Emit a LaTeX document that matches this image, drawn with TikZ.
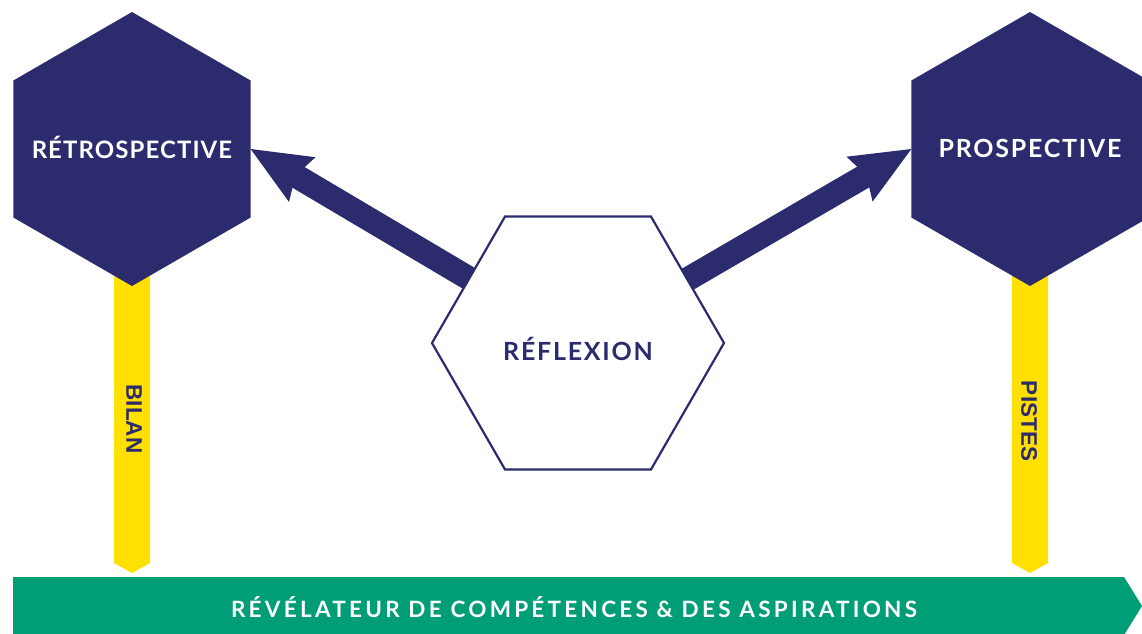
\documentclass[tikz,border=0pt]{standalone}
\usepackage{fontspec}
\setmainfont{Lato}
\newfontfamily\barfont{Liberation Sans}
\usetikzlibrary{shapes.geometric,arrows.meta,backgrounds}
\definecolor{hexblue}{RGB}{43,43,110}
\definecolor{baryellow}{RGB}{255,224,0}
\definecolor{bargreen}{RGB}{0,158,118}

\begin{document}
\begin{tikzpicture}[x=1pt,y=-1pt,
        darkhex/.style={regular polygon, regular polygon sides=6, shape border rotate=30, minimum size=274pt, inner sep=0pt, outer sep=0pt, fill=hexblue, text=white, text depth=0pt},
        lighthex/.style={regular polygon, regular polygon sides=6, minimum size=292pt, inner sep=0pt, outer sep=0pt, draw=hexblue, line width=2.2pt, fill=white, text=hexblue, text depth=0pt},
        bartext/.style={rotate=-90, text=hexblue, font=\barfont\bfseries\fontsize{22.5}{22.5}\selectfont},
        bigarrow/.style={hexblue, line width=24pt, -{Stealth[length=60pt 0 0, width=52pt 0 0, inset=8pt 0 0, line width=0pt 0 0]}}]
        \useasboundingbox (0,0) rectangle (1142,633);
        \clip (0,0) rectangle (1142,633);

        \node[darkhex, text height=18pt, font=\bfseries\fontsize{24}{24}\selectfont\addfontfeatures{LetterSpace=4.5}] (retro) at (132,149) {\makebox[0pt]{RÉTROSPECTIVE}};
        \node[darkhex, text height=16pt, font=\bfseries\fontsize{25}{25}\selectfont\addfontfeatures{LetterSpace=7}] (prosp) at (1030,149) {\makebox[0pt]{PROSPECTIVE}};
        \node[lighthex, text height=34pt, font=\bfseries\fontsize{25}{25}\selectfont\addfontfeatures{LetterSpace=7}] (refl) at (578,343) {\makebox[0pt]{RÉFLEXION}};

        \node[bartext] (bilan) at (134,419) {BILAN};
        \node[bartext] (pistes) at (1029,421) {PISTES};
        \node[anchor=base, inner sep=0pt, text=white, font=\bfseries\fontsize{22.5}{22.5}\selectfont\addfontfeatures{LetterSpace=14.5}] (revel) at (574,617) {RÉVÉLATEUR DE COMPÉTENCES \& DES ASPIRATIONS};

        \begin{scope}[on background layer]
            \fill[baryellow] (114,270) -- (150,270) -- (150,563) -- (132,573) -- (114,563) -- cycle;
            \fill[baryellow] (1012,270) -- (1048,270) -- (1048,563) -- (1030,573) -- (1012,563) -- cycle;
            \fill[bargreen] (13,577) -- (1124,577) -- (1142,606) -- (1124,635) -- (13,635) -- cycle;
            %\draw[gray] (0,0) grid[step=50] (1142,633);
            \draw[bigarrow] (refl.center) -- (retro.east);
            \draw[bigarrow] (refl.center) -- (prosp.west);
        \end{scope}
    \end{tikzpicture}
\end{document}
